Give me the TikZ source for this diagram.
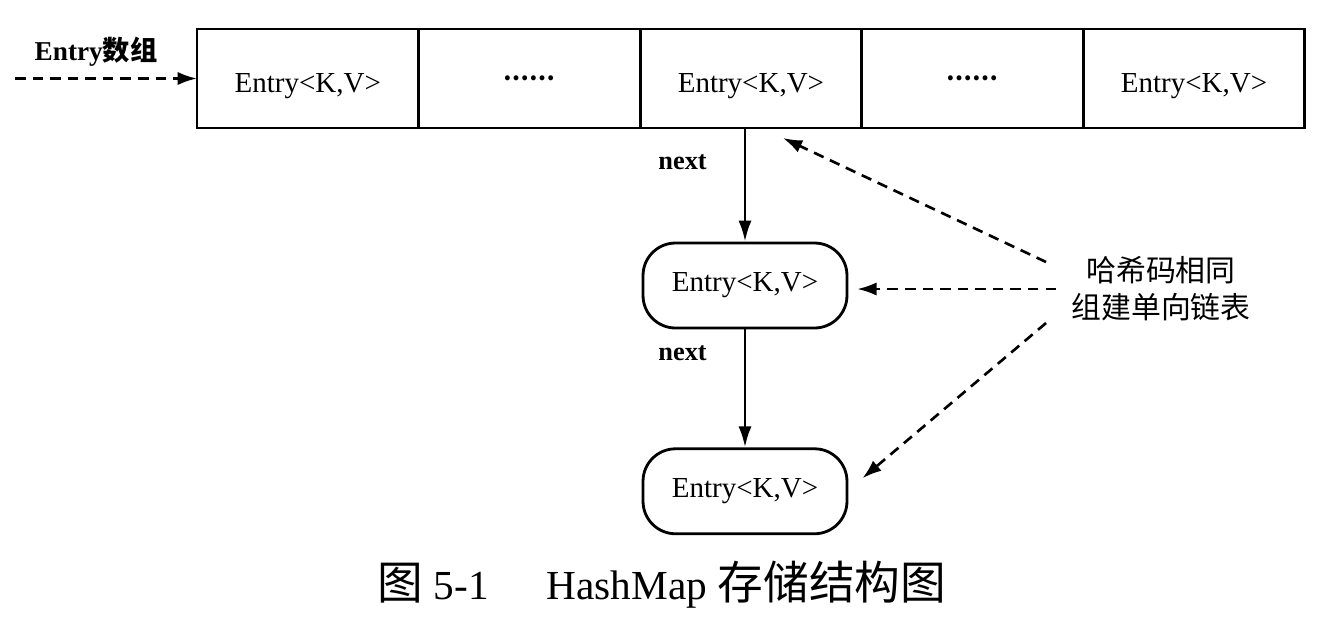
\documentclass[tikz,border=0pt]{standalone}
\usepackage{fontspec}
\setmainfont{Liberation Serif}
\newfontfamily\cjk{Noto Sans CJK SC}
\usepackage{tikz}
\usetikzlibrary{positioning,arrows.meta}

\begin{document}
\begin{tikzpicture}[x=0.02cm,y=-0.02cm]
\tikzstyle{every node}=[font=\fontsize{16.5}{19}\selectfont];
\tikzstyle{cell}=[draw,line width=1.6pt,minimum width=4.432cm,minimum height=1.98cm,inner sep=0pt,outer sep=0pt];
\tikzstyle{entrycell}=[cell,text height=16pt,text depth=0pt];
\tikzstyle{entrynode}=[draw,line width=1.6pt,rounded corners=0.65cm,minimum width=4.08cm,minimum height=1.7cm];
\tikzstyle{nextlbl}=[font=\fontsize{15}{18}\selectfont\bfseries];
\tikzstyle{solidarr}=[line width=1.6pt,-{Latex[length=12pt,width=7.5pt]}];
\tikzstyle{dasharr}=[line width=1.5pt,dash pattern=on 6pt off 4pt,-{Latex[length=11pt,width=7.5pt]}];

\useasboundingbox (0,0) rectangle (1321,627);

% Entry array
\node[entrycell] (c1) at (307.8,78.5) {Entry<K,V>};
\node[cell,right=0pt of c1] (c2) {\cjk\bfseries\fontsize{13}{15}\selectfont ……};
\node[entrycell,right=0pt of c2] (c3) {Entry<K,V>};
\node[cell,right=0pt of c3] (c4) {\cjk\bfseries\fontsize{13}{15}\selectfont ……};
\node[entrycell,right=0pt of c4] (c5) {Entry<K,V>};

\node[font=\fontsize{15.5}{18}\selectfont\bfseries] (arrlbl) at (96,52) {Entry{\cjk 数组}};
\coordinate (arrstart) at (15,78.5);
\draw[dasharr] (arrstart) -- (c1.west);

% linked list
\node[entrynode] (n1) at (745,285.5) {Entry<K,V>};
\node[entrynode,below=2.36cm of n1] (n2) {Entry<K,V>};

\draw[solidarr] (n1 |- c3.south) -- node[nextlbl,pos=0.3,left=0.62cm] {next} (n1.north);
\draw[solidarr] (n1.south) -- node[nextlbl,pos=0.2,left=0.62cm] {next} (n2.north);

% same hash code
\node[font=\cjk\fontsize{17}{21}\selectfont,align=center,inner sep=0.3cm] (hash) at (1161,289) {哈希码相同\\组建单向链表};
\coordinate (tip1) at ([shift={(32,10)}]c3.south);
\coordinate (tip3) at ([shift={(14,-13)}]n2.east);
\draw[dasharr] ([shift={(-10,-27)}]hash.west) -- (tip1);
\draw[dasharr,shorten >=5pt] (hash.west) -- (hash.west -| n1.east);
\draw[dasharr] ([shift={(-10,34)}]hash.west) -- (tip3);

\node[font=\fontsize{23.5}{29}\selectfont] (caption) at (662,585) {{\cjk\fontsize{26}{29}\selectfont 图} 5-1\hspace{1.4em}HashMap {\cjk\fontsize{26}{29}\selectfont 存储结构图}};
\end{tikzpicture}
\end{document}
